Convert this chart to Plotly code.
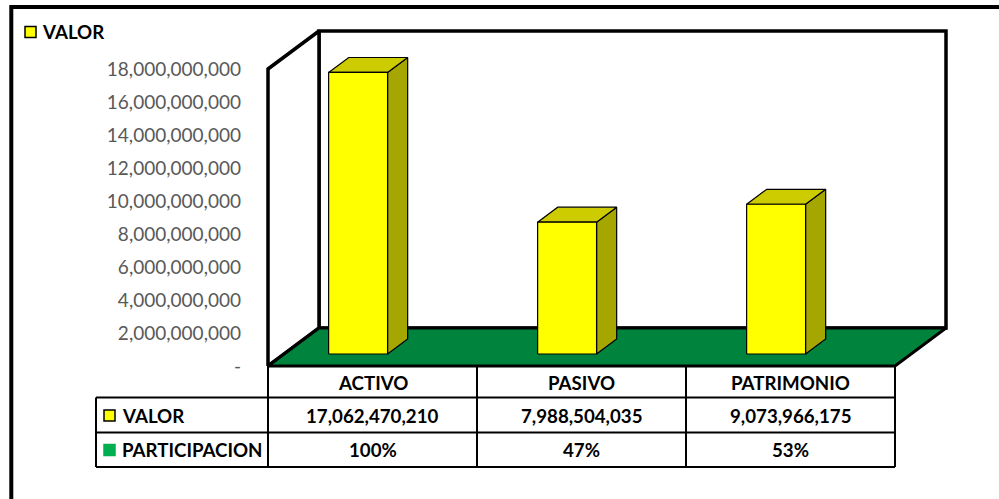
import plotly.graph_objects as go

# ---------------- data ----------------
categories = ["ACTIVO", "PASIVO", "PATRIMONIO"]
valor = [17062470210, 7988504035, 9073966175]
participacion = [100, 47, 53]
series_names = ["VALOR", "PARTICIPACION"]
tick_vals = [0, 2e9, 4e9, 6e9, 8e9, 10e9, 12e9, 14e9, 16e9, 18e9]
tick_text = ["-", "2,000,000,000", "4,000,000,000", "6,000,000,000", "8,000,000,000",
             "10,000,000,000", "12,000,000,000", "14,000,000,000", "16,000,000,000",
             "18,000,000,000"]

# ---------------- geometry / style ----------------
W, H = 999, 499
YMAX = 18e9
K = YMAX / 297.0            # value per pixel
COLW = 209.0                # pixels per category
X0PX = 268.0                # front-left of plot floor
Y0PX = 366.0                # zero line pixel
XR = [-0.5 - X0PX / COLW, -0.5 + (W - X0PX) / COLW]
YR = [-(H - Y0PX) * K, Y0PX * K]
DX = 51 / COLW              # depth offset in x units
DY = 38 * K                 # depth offset in value units
D1, D2 = 0.316, 0.71        # bar front/back depth
BAR_SHIFT, BAR_HALF = -0.146, 0.141

FONT = "Lato"
YEL, YEL_TOP, YEL_SIDE = "#FFFF00", "#CCCC00", "#A6A600"
FLOOR = "#00843D"
PART_GREEN = "#00B050"


def P(x, v, d):
    return x + d * DX, v + d * DY


def poly(pts, fill, lw, lc="black"):
    xs = [p[0] for p in pts] + [pts[0][0]]
    ys = [p[1] for p in pts] + [pts[0][1]]
    return go.Scatter(x=xs, y=ys, mode="lines", fill="toself", fillcolor=fill,
                      line=dict(color=lc, width=lw), hoverinfo="skip",
                      showlegend=False)


n = len(categories)
xl, xr = -0.5, n - 0.5
fig = go.Figure()

# walls and floor
fig.add_trace(poly([P(xl, 0, 1), P(xr, 0, 1), P(xr, YMAX, 1), P(xl, YMAX, 1)], "white", 3.5))
fig.add_trace(poly([P(xl, 0, 0), P(xl, 0, 1), P(xl, YMAX, 1), P(xl, YMAX, 0)], "white", 3.5))
fig.add_trace(poly([P(xl, 0, 0), P(xr, 0, 0), P(xr, 0, 1), P(xl, 0, 1)], FLOOR, 3))

# bars
for i, v in enumerate(valor):
    x0 = i + BAR_SHIFT - BAR_HALF
    x1 = i + BAR_SHIFT + BAR_HALF
    fig.add_trace(poly([P(x1, 0, D1), P(x1, 0, D2), P(x1, v, D2), P(x1, v, D1)], YEL_SIDE, 1.2))
    fig.add_trace(poly([P(x0, v, D1), P(x1, v, D1), P(x1, v, D2), P(x0, v, D2)], YEL_TOP, 1.2))
    fig.add_trace(poly([P(x0, 0, D1), P(x1, 0, D1), P(x1, v, D1), P(x0, v, D1)], YEL, 1.2))

shapes = []
annotations = []


def py(pix):
    return 1 - pix / H


# outer chart border
shapes.append(dict(type="rect", xref="paper", yref="paper", x0=11.3 / W, x1=1.02,
                   y0=-0.05, y1=py(7), line=dict(color="black", width=4),
                   fillcolor="rgba(0,0,0,0)"))

# data table
r0, r1, r2, r3 = py(366), py(397.5), py(432.5), py(467)
xlab = -0.5 - (X0PX - 96) / COLW
tl = dict(color="black", width=2)
for yy, xa in [(r1, xlab), (r2, xlab), (r3, xlab)]:
    shapes.append(dict(type="line", xref="x", yref="paper", x0=xa, x1=xr, y0=yy, y1=yy, line=tl))
shapes.append(dict(type="line", xref="x", yref="paper", x0=xlab, x1=xlab, y0=r1, y1=r3, line=tl))
for k in range(n + 1):
    xx = -0.5 + k
    shapes.append(dict(type="line", xref="x", yref="paper", x0=xx, x1=xx, y0=r0, y1=r3, line=tl))

tf = dict(family=FONT, size=18.7, color="black", weight="bold")
for i, c in enumerate(categories):
    annotations.append(dict(x=i, y=py(382.5), xref="x", yref="paper", text=c,
                            showarrow=False, font=tf, xanchor="center", yanchor="middle"))
    annotations.append(dict(x=i, y=py(415.5), xref="x", yref="paper",
                            text=f"{valor[i]:,}", showarrow=False, font=tf,
                            xanchor="center", yanchor="middle"))
    annotations.append(dict(x=i, y=py(450), xref="x", yref="paper",
                            text=f"{participacion[i]}%", showarrow=False, font=tf,
                            xanchor="center", yanchor="middle"))

# row headers (legend keys)
key_colors = [YEL, PART_GREEN]
key_borders = ["black", PART_GREEN]
row_y = [415.5, 450]
for name, col, bc, yy in zip(series_names, key_colors, key_borders, row_y):
    shapes.append(dict(type="rect", xref="paper", yref="paper", x0=104 / W, x1=115 / W,
                       y0=py(yy + 5.5), y1=py(yy - 5.5), fillcolor=col,
                       line=dict(color=bc, width=1.5)))
    annotations.append(dict(x=120 / W, y=py(yy), xref="paper", yref="paper", text=name,
                            showarrow=False, xanchor="left", yanchor="middle", font=tf))

# top legend
shapes.append(dict(type="rect", xref="paper", yref="paper", x0=25 / W, x1=36 / W,
                   y0=py(37.5), y1=py(26.5), fillcolor=YEL, line=dict(color="black", width=1.5)))
annotations.append(dict(x=40 / W, y=py(32), xref="paper", yref="paper", text=series_names[0],
                        showarrow=False, xanchor="left", yanchor="middle", font=tf))

fig.update_layout(
    width=W, height=H, margin=dict(l=0, r=0, t=0, b=0),
    paper_bgcolor="white", plot_bgcolor="rgba(0,0,0,0)",
    xaxis=dict(range=XR, visible=False, fixedrange=True),
    yaxis=dict(range=YR, anchor="free", position=X0PX / W, showgrid=False,
               zeroline=False, showline=False, ticks="", tickvals=tick_vals,
               ticktext=tick_text, ticklabelstandoff=27,
               tickfont=dict(family=FONT, size=19, color="#595959"), fixedrange=True),
    shapes=shapes, annotations=annotations, showlegend=False,
)

fig.write_html("out.html")
